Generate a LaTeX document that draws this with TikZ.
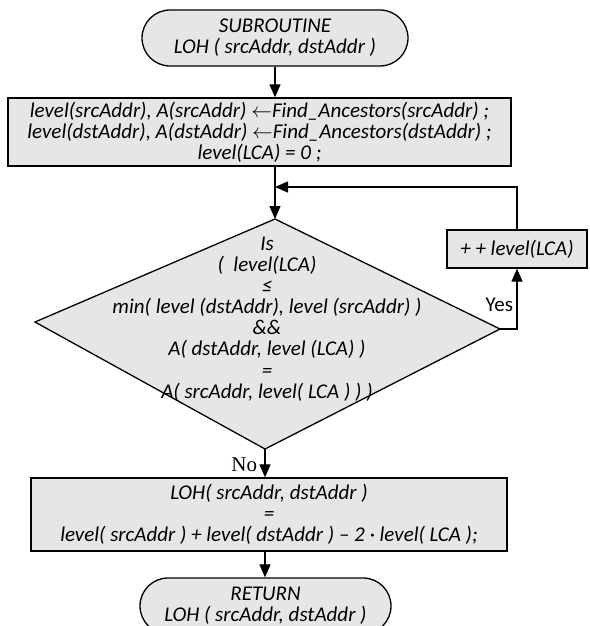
\documentclass[tikz,border=0pt]{standalone}
\usepackage{fontspec}
\setmainfont{Carlito}
\newfontfamily\serifno{Liberation Serif}
\usepackage{tikz}
\usetikzlibrary{arrows.meta,shapes.misc}
\definecolor{boxgray}{RGB}{230,230,230}
\newcommand{\flowfont}{\fontsize{21}{21.1}\selectfont}
\tikzset{
	box/.style={draw,fill=boxgray,line width=1.3pt,rectangle,inner sep=2pt,align=center,font=\flowfont\itshape},
	term/.style={draw,fill=boxgray,line width=1.3pt,rounded rectangle,inner sep=2pt,align=center,font=\flowfont\itshape},
	flow/.style={line width=1.2pt,-{Triangle[length=13pt,width=11pt]}}
}

\begin{document}
\begin{tikzpicture}[x=1pt,y=-1pt]
		\useasboundingbox (0,0) rectangle (589,626);
		\node[term,minimum width=270pt,minimum height=56pt] (start) at (275,38) {SUBROUTINE\\LOH ( srcAddr, dstAddr )};
		\node[box,minimum width=503pt,minimum height=68pt] (init) at (259.5,132)
		{level(srcAddr), A(srcAddr) $\leftarrow$Find\_Ancestors(srcAddr) ;\\
		level(dstAddr), A(dstAddr) $\leftarrow$Find\_Ancestors(dstAddr) ;\\
		level(LCA) = 0 ;};
		% the test, drawn as four corners
		\coordinate (dtop) at (275,219);
		\coordinate (dright) at (500,329);
		\coordinate (dbot) at (265,449);
		\coordinate (dleft) at (35,322);
		\filldraw[fill=boxgray,line width=1.3pt] (dtop) -- (dright) -- (dbot) -- (dleft) -- cycle;
		\node[align=center,font=\flowfont\itshape] (cond) at (267,319)
		{Is\\(\ \ level(LCA)\\≤\\min( level (dstAddr), level (srcAddr) )\\ \&\&\\
		A( dstAddr, level (LCA) )\\=\\A( srcAddr, level( LCA ) ) )};
		\node[box,minimum width=140pt,minimum height=38pt] (inc) at (517,249) {+ + level(LCA)};
		\node[box,minimum width=476pt,minimum height=73pt] (result) at (269,514.5)
		{LOH( srcAddr, dstAddr )\\=\\level( srcAddr ) + level( dstAddr ) – 2 · level( LCA );};
		\node[term,minimum width=255pt,minimum height=56pt] (stop) at (265.5,606) {RETURN\\LOH ( srcAddr, dstAddr )};
		\coordinate (join) at (275,187); % loop comes back here
		\draw[flow] (start.south -| dtop) -- (init.north -| dtop);
		\draw[flow] (init.south -| dtop) -- (dtop);
		\draw[flow] (inc.north) |- (join);
		\draw[flow] (dright) -| (inc.south) node[pos=0.7,left,font=\flowfont] {Yes};
		\draw[flow] (dbot) -- (result.north -| dbot) node[pos=0.55,left=4pt,font=\fontsize{21}{22}\selectfont\serifno] {No};
		\draw[flow] (result.south -| dbot) -- (stop.north -| dbot);
\end{tikzpicture}
\end{document}
